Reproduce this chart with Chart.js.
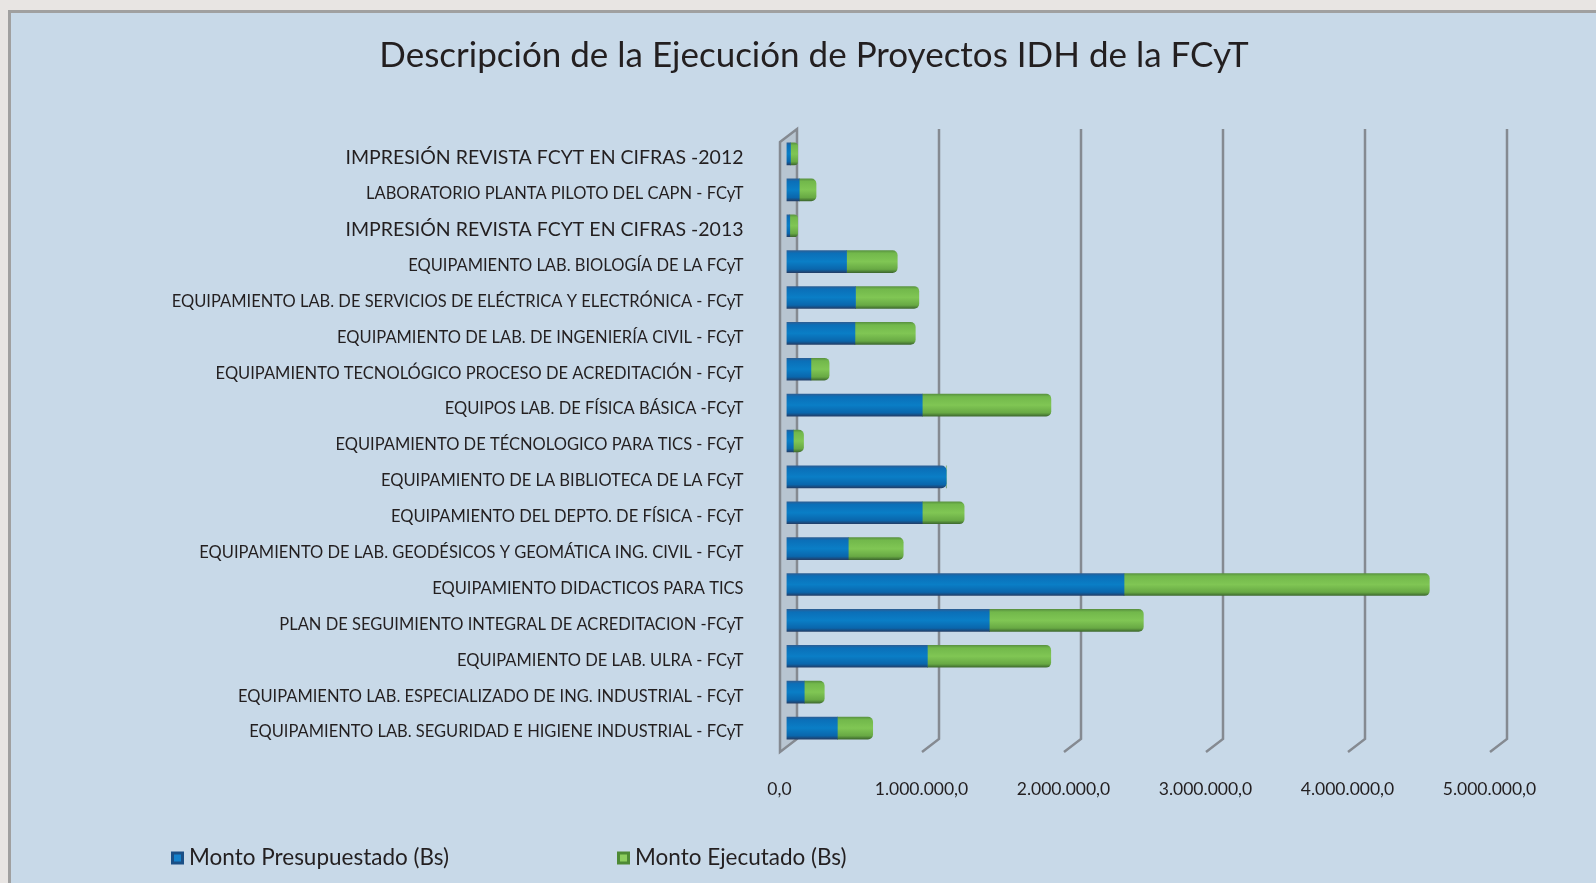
<!DOCTYPE html>
<html>
<head>
<meta charset="utf-8">
<script src="https://cdn.jsdelivr.net/npm/chart.js@4.4.1/dist/chart.umd.min.js"></script>
<style>
  html, body { margin: 0; padding: 0; background: #e8e5e3; width: 1596px; height: 883px; overflow: hidden; }
  #panel { position: absolute; left: 8px; top: 10px; width: 1588px; height: 873px; box-sizing: border-box;
           background: #c8d9e8; border-left: 3px solid #a0a0a0; border-top: 3px solid #a0a0a0; }
  #chart { position: absolute; left: 0; top: 0; }
</style>
</head>
<body>
<div id="panel"></div>
<canvas id="chart" width="1596" height="883"></canvas>
<script>
const projects = [
  'IMPRESIÓN REVISTA FCYT EN CIFRAS -2012',
  'LABORATORIO PLANTA PILOTO DEL CAPN - FCyT',
  'IMPRESIÓN REVISTA FCYT EN CIFRAS -2013',
  'EQUIPAMIENTO LAB. BIOLOGÍA DE LA FCyT',
  'EQUIPAMIENTO LAB. DE SERVICIOS DE ELÉCTRICA Y ELECTRÓNICA - FCyT',
  'EQUIPAMIENTO DE LAB. DE INGENIERÍA CIVIL - FCyT',
  'EQUIPAMIENTO TECNOLÓGICO PROCESO DE ACREDITACIÓN - FCyT',
  'EQUIPOS LAB. DE FÍSICA BÁSICA -FCyT',
  'EQUIPAMIENTO DE TÉCNOLOGICO PARA TICS - FCyT',
  'EQUIPAMIENTO DE LA BIBLIOTECA DE LA FCyT',
  'EQUIPAMIENTO DEL DEPTO. DE FÍSICA - FCyT',
  'EQUIPAMIENTO DE LAB. GEODÉSICOS Y GEOMÁTICA ING. CIVIL - FCyT',
  'EQUIPAMIENTO DIDACTICOS PARA TICS',
  'PLAN DE SEGUIMIENTO INTEGRAL DE ACREDITACION -FCyT',
  'EQUIPAMIENTO DE LAB. ULRA - FCyT',
  'EQUIPAMIENTO LAB. ESPECIALIZADO DE ING. INDUSTRIAL - FCyT',
  'EQUIPAMIENTO LAB. SEGURIDAD E HIGIENE INDUSTRIAL - FCyT'
];
const presupuestado = [28000, 90000, 23000, 423000, 486000, 482000, 172000, 956000, 48000,
                       1125000, 956000, 435000, 2377000, 1428000, 992000, 125000, 358000];
const ejecutado = [50000, 118000, 55000, 357000, 446000, 425000, 128000, 906000, 72000,
                   0, 295000, 387000, 2150000, 1085000, 869000, 141000, 249000];
const axisTicks = [0, 1000000, 2000000, 3000000, 4000000, 5000000];
const seriesNames = ['Monto Presupuestado (Bs)', 'Monto Ejecutado (Bs)'];
const bigLabelRows = [0, 2];

const textColor = '#231f20';
const fontFamily = 'Lato, "Open Sans", sans-serif';

function fmt(v) {
  return String(Math.round(v)).replace(/\B(?=(\d{3})+(?!\d))/g, '.') + ',0';
}

// vertical shading so the bars look like rounded tubes
function shade(stops, flat) {
  return c => {
    if (c.type !== 'data') return flat;
    const y = c.chart.scales.y;
    const mid = y ? y.getPixelForValue(c.dataIndex) : NaN;
    if (!isFinite(mid)) return flat;
    const g = c.chart.ctx.createLinearGradient(0, mid - 11, 0, mid + 11);
    stops.forEach(s => g.addColorStop(s[0], s[1]));
    return g;
  };
}
const blueStops = [[0, '#2a5f96'], [0.12, '#0b6fb8'], [0.5, '#0a7ec6'], [0.85, '#0a66ac'], [1, '#213f6a']];
const greenStops = [[0, '#5a9440'], [0.12, '#72b84b'], [0.5, '#80c654'], [0.85, '#68a944'], [1, '#3f6b2f']];

// 3D back wall + gridlines drawn from the x scale
const walls = {
  id: 'walls',
  beforeDatasetsDraw(chart) {
    const {ctx, chartArea: a, scales: {x}} = chart;
    const back = 10.5, front = -6.5, rise = 7, drop = 6;
    const x0 = x.getPixelForValue(0);
    ctx.save();
    ctx.lineWidth = 2.5;
    ctx.strokeStyle = '#858a91';
    ctx.beginPath();
    ctx.moveTo(x0 + front, a.top + drop);
    ctx.lineTo(x0 + back, a.top - rise);
    ctx.lineTo(x0 + back, a.bottom - rise);
    ctx.lineTo(x0 + front, a.bottom + drop);
    ctx.closePath();
    ctx.fillStyle = '#b8c5d1';
    ctx.fill();
    ctx.stroke();
    axisTicks.slice(1).forEach(v => {
      const xb = x.getPixelForValue(v) + back;
      ctx.beginPath();
      ctx.moveTo(xb, a.top - rise);
      ctx.lineTo(xb, a.bottom - rise);
      ctx.lineTo(xb - (back - front), a.bottom + drop);
      ctx.stroke();
    });
    ctx.restore();
  }
};

const keyLegend = {
  id: 'keyLegend',
  afterDraw(chart) {
    const ctx = chart.ctx;
    const xs = [171, 617], y = 858, s = 13;
    ctx.save();
    ctx.font = '22.5px ' + fontFamily;
    ctx.textBaseline = 'middle';
    chart.data.datasets.forEach((ds, i) => {
      const bx = xs[i], by = y - s / 2;
      ctx.fillStyle = ds.keyColor[0];
      ctx.fillRect(bx, by, s, s);
      ctx.fillStyle = ds.keyColor[1];
      ctx.fillRect(bx + 3, by + 3, s - 6, s - 6);
      ctx.fillStyle = textColor;
      ctx.fillText(ds.label, bx + s + 5, y);
    });
    ctx.restore();
  }
};

new Chart(document.getElementById('chart'), {
  type: 'bar',
  data: {
    labels: projects,
    datasets: [
      {
        label: seriesNames[0],
        data: presupuestado,
        backgroundColor: shade(blueStops, '#0a72bd'),
        keyColor: ['#1a4f86', '#1481cc'],
        borderRadius: 5
      },
      {
        label: seriesNames[1],
        data: ejecutado,
        backgroundColor: shade(greenStops, '#78bf4e'),
        keyColor: ['#4e8a35', '#8ccd5e'],
        borderRadius: 5
      }
    ]
  },
  options: {
    indexAxis: 'y',
    responsive: false,
    animation: false,
    barThickness: 22,
    layout: { padding: { left: 131.5, right: 99.5, top: 0, bottom: 58 } },
    scales: {
      x: {
        stacked: true,
        min: 0,
        max: 5000000,
        afterBuildTicks: s => { s.ticks = axisTicks.map(v => ({ value: v })); },
        grid: { display: false },
        border: { display: false },
        ticks: {
          padding: 25,
          labelOffset: -7,
          maxRotation: 0,
          color: textColor,
          font: { family: fontFamily, size: 17.5 },
          callback: v => fmt(v)
        }
      },
      y: {
        stacked: true,
        afterFit: s => { s.width = 655; },
        grid: { display: false },
        border: { display: false },
        ticks: {
          padding: 35,
          labelOffset: 4,
          color: textColor,
          font: c => ({ family: fontFamily, size: bigLabelRows.includes(c.index) ? 19.5 : 16.5 })
        }
      }
    },
    plugins: {
      legend: { display: false },
      tooltip: { enabled: false },
      title: {
        display: true,
        text: 'Descripción de la Ejecución de Proyectos IDH de la FCyT',
        color: textColor,
        font: { family: fontFamily, size: 35, weight: 'normal' },
        padding: { top: 35, bottom: 59 }
      }
    }
  },
  plugins: [walls, keyLegend]
});
</script>
</body>
</html>
